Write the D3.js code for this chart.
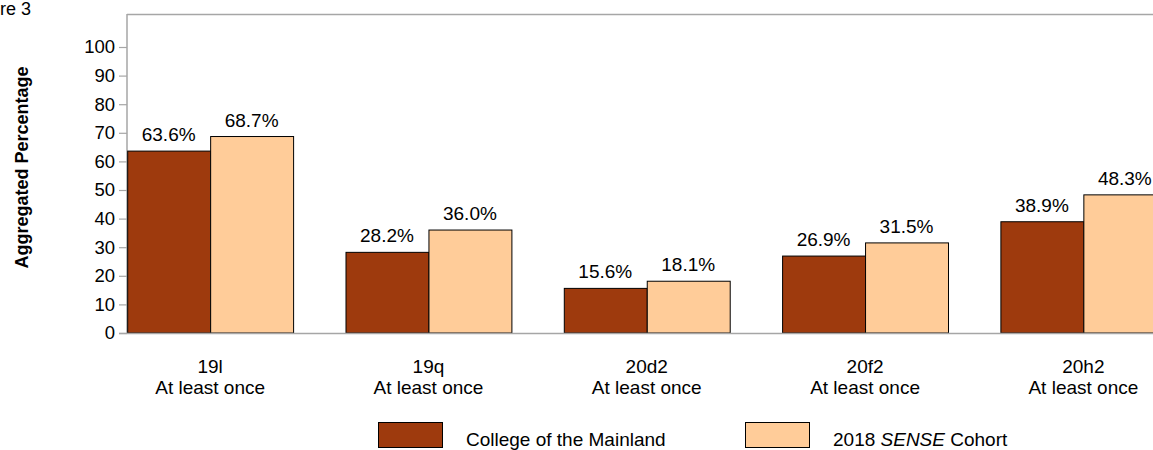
<!DOCTYPE html>
<html><head><meta charset="utf-8">
<script src="https://cdn.jsdelivr.net/npm/d3@7"></script>
<style>body{margin:0;background:#fff;overflow:hidden}svg{display:block}text{font-family:"Liberation Sans",Arial,sans-serif}</style>
</head><body>
<script>
const categories = ["19l", "19q", "20d2", "20f2", "20h2"];
const subLabel = "At least once";
const seriesNames = ["College of the Mainland", "2018 SENSE Cohort"];
const college = [63.6, 28.2, 15.6, 26.9, 38.9];
const cohort = [68.7, 36.0, 18.1, 31.5, 48.3];
const yTicks = [0, 10, 20, 30, 40, 50, 60, 70, 80, 90, 100];
const colors = ["#9E3A0D", "#FFCC99"];

const W = 1153, H = 450;
const FS = 19;
const svg = d3.select("body").append("svg").attr("width", W).attr("height", H);

const y = d3.scaleLinear().domain([0, 100]).range([333, 47]);
const x0 = d3.scaleBand().domain(categories).range([101, 101 + 5 * 218.3]).paddingInner(0.24).paddingOuter(0.12);
const x1 = d3.scaleBand().domain([0, 1]).range([0, x0.bandwidth()]);

// frame
svg.append("line").attr("x1", 127).attr("x2", W).attr("y1", 14.5).attr("y2", 14.5).attr("stroke", "#a6a6a6").attr("stroke-width", 1.5);

const yAxis = d3.axisLeft(y).tickValues(yTicks).tickSize(8).tickPadding(4);
const gy = svg.append("g").attr("transform", "translate(127,0)").call(yAxis);
gy.select(".domain").remove();
gy.selectAll(".tick line").attr("stroke", "#a6a6a6").attr("stroke-width", 1.2);
gy.selectAll(".tick text").attr("font-size", 18.5).attr("fill", "#000").style("font-family", '"Liberation Sans",Arial,sans-serif');
svg.append("line").attr("x1", 127).attr("x2", 127).attr("y1", 14).attr("y2", 334).attr("stroke", "#a6a6a6").attr("stroke-width", 1.5);

svg.append("text").attr("transform", "translate(28,167.5) rotate(-90)").attr("text-anchor", "middle")
  .attr("font-size", 18).attr("font-weight", "bold").text("Aggregated Percentage");

svg.append("text").attr("x", 0).attr("y", 15).attr("font-size", 18).text("re 3");

const data = categories.map((c, i) => ({c, v: [college[i], cohort[i]]}));
const groups = svg.append("g").selectAll("g").data(data).join("g").attr("transform", d => `translate(${x0(d.c)},0)`);
groups.selectAll("rect").data(d => d.v.map((v, k) => ({v, k}))).join("rect")
  .attr("x", d => x1(d.k) + 0.5).attr("width", x1.bandwidth())
  .attr("y", d => y(d.v)).attr("height", d => y(0) - y(d.v))
  .attr("fill", d => colors[d.k]).attr("stroke", "#000").attr("stroke-width", 1);
groups.selectAll("text.val").data(d => d.v.map((v, k) => ({v, k}))).join("text").attr("class", "val")
  .attr("x", d => x1(d.k) + x1.bandwidth() / 2).attr("y", d => y(d.v) - 10)
  .attr("text-anchor", "middle").attr("font-size", FS).text(d => d.v.toFixed(1) + "%");

// x axis baseline
svg.append("line").attr("x1", 119).attr("x2", W).attr("y1", 333.5).attr("y2", 333.5).attr("stroke", "#a6a6a6").attr("stroke-width", 1.5);

const xAxis = d3.axisBottom(x0).tickSize(0).tickPadding(0);
const gx = svg.append("g").attr("transform", "translate(0,333)").call(xAxis);
gx.select(".domain").remove();
gx.selectAll(".tick text").remove();
gx.selectAll(".tick").each(function(d) {
  const g = d3.select(this);
  g.append("text").attr("y", 40).attr("text-anchor", "middle").attr("font-size", FS).attr("fill", "#000").text(d);
  g.append("text").attr("y", 61).attr("text-anchor", "middle").attr("font-size", FS).attr("fill", "#000").text(subLabel);
});

// legend
const leg = [{x: 378}, {x: 745}];
leg.forEach((l, i) => {
  svg.append("rect").attr("x", l.x + 0.5).attr("y", 422.5).attr("width", 64).attr("height", 25)
    .attr("fill", colors[i]).attr("stroke", "#000").attr("stroke-width", 1);
});
svg.append("text").attr("x", 466).attr("y", 446).attr("font-size", FS).text(seriesNames[0]);
const t2 = svg.append("text").attr("x", 833).attr("y", 446).attr("font-size", FS);
t2.append("tspan").text("2018 ");
t2.append("tspan").attr("font-style", "italic").text("SENSE");
t2.append("tspan").text(" Cohort");
</script>
</body></html>
